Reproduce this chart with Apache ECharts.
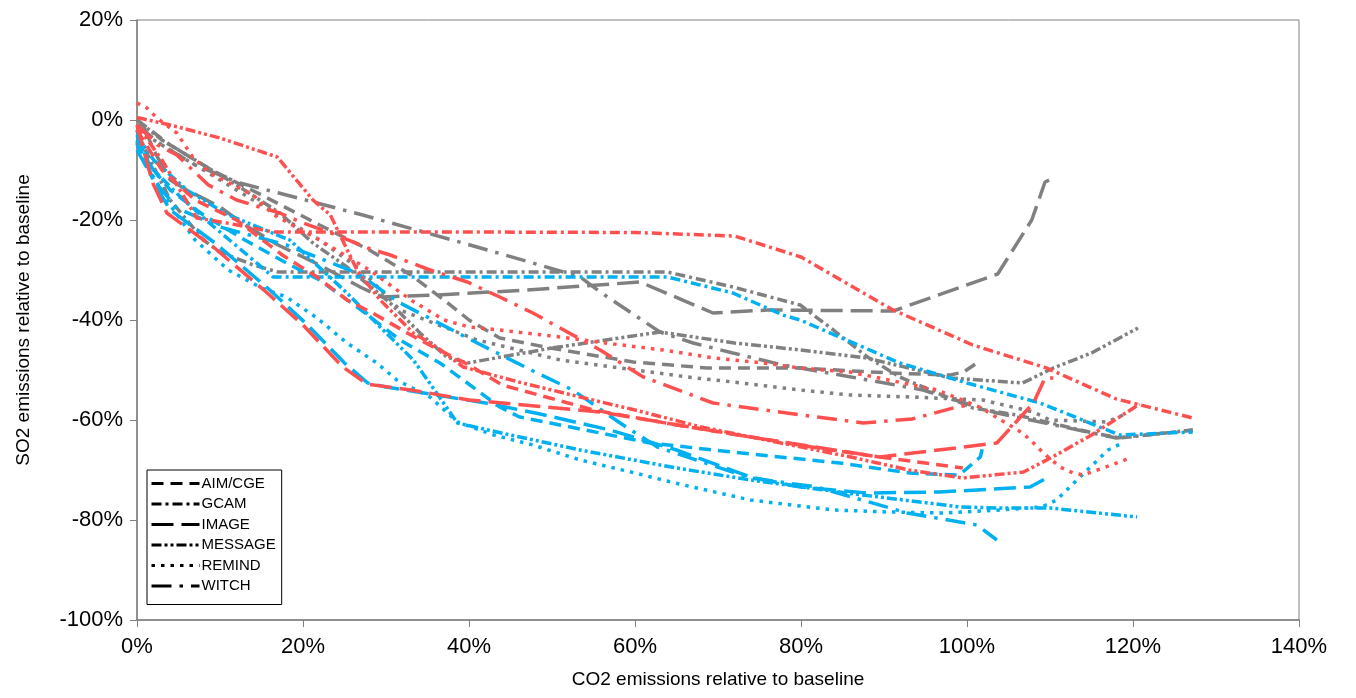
<!DOCTYPE html>
<html><head><meta charset="utf-8">
<script src="https://cdn.jsdelivr.net/npm/echarts@6/dist/echarts.min.js"></script>
<style>html,body{margin:0;padding:0;background:#fff}#c{width:1356px;height:698px}</style>
</head><body><div id="c"></div>
<script>
// x: CO2 emissions relative to baseline (%), y: SO2 emissions relative to baseline (%)
const xTicks = [0,20,40,60,80,100,120,140];
const yTicks = [-100,-80,-60,-40,-20,0,20];
const models = ['AIM/CGE','GCAM','IMAGE','MESSAGE','REMIND','WITCH'];

const redAIM = [[0,-2],[3,-10],[7,-16],[12,-20],[17.5,-27],[21.7,-31.4],[25.3,-36],[28.4,-38.6],[33,-43],[35.7,-45.4],[40,-49],[44,-53],[55,-58],[65,-61],[74,-63.4],[82,-65.6],[89.5,-67.4],[95,-68.6],[99.5,-69.6]];
const redGCAM = [[0,-1],[3,-8],[7.2,-19.6],[10.8,-20.6],[16.4,-22.4],[40,-22.4],[60,-22.5],[72,-23.2],[80,-27.4],[91.1,-38],[100.7,-45],[109.6,-49.6],[118,-55.8],[127.2,-59.6]];
const redIMAGE = [[0,-1],[0.8,-6],[1.9,-12.6],[3.6,-18.6],[9.2,-25.4],[15.7,-34.6],[20,-41],[24.8,-49.4],[27.7,-52.8],[33,-54],[40,-56],[55.8,-58.4],[73.9,-63.4],[89.5,-67.4],[103.6,-64.6],[108,-56.6],[109.4,-51.6],[110.4,-51.6]];
const redMESSAGE = [[0,0.5],[4,-1],[10,-3.6],[16.9,-7.4],[21.2,-16],[23.3,-19],[26.5,-30],[29.3,-36],[33.3,-42.6],[36.1,-45.4],[39.3,-49.4],[46,-52.4],[53.4,-55.4],[60,-58],[68,-61.4],[77,-64.4],[86,-67.4],[93,-70],[99.5,-71.6],[106.8,-70.4],[110.3,-67.4],[115,-63],[120.8,-56.8]];
const redREMIND = [[0,3.4],[1.2,2.4],[2.4,0.4],[4.8,-2.6],[6.7,-7.4],[8.8,-10.6],[11.6,-13],[14,-15],[16.5,-19],[22,-24],[28,-30],[33,-36],[37,-40],[40,-41.4],[43.7,-42],[51,-43.4],[57.4,-44.8],[63.4,-46],[69.5,-47.6],[75.5,-48.6],[79.9,-49.6],[85.9,-50.4],[96.4,-54],[101.5,-57.4],[106.7,-62.6],[108,-64.6],[109.2,-66.6],[111.2,-69.4],[112.8,-70.6],[114,-71],[115.7,-70],[118.4,-68.4],[119.9,-67.4]];
const redWITCH = [[0,-1],[2.5,-5],[4.8,-7],[8.6,-13],[12,-16],[17.2,-18.6],[20,-20.6],[24,-23],[27.8,-25.6],[30.5,-27],[35.3,-30],[39.8,-32.4],[43.7,-35.4],[47.7,-38.6],[55.8,-46],[61,-51.4],[69.4,-56.6],[78.3,-58.6],[87.5,-60.6],[93.4,-59.8],[98.8,-57.4],[100.4,-57]];

const blueAIM = [[0,-3],[1.5,-9],[4,-14],[8,-19],[13,-24],[18,-28.6],[22,-32],[27,-38],[31.7,-44],[36.5,-48.6],[39.8,-52.6],[43.7,-57.4],[46.1,-59.4],[49.8,-60.6],[55.8,-62.6],[61.8,-64.6],[73.9,-66.8],[84.7,-68.6],[93.1,-70.6],[98.8,-71],[99.5,-70.4],[101.6,-67.4],[101.9,-65.4]];
const blueGCAM = [[0,-5],[2,-10],[5,-15],[9,-21],[13,-26.6],[16.4,-31.4],[40,-31.4],[63.9,-31.4],[71.8,-34.6],[77.8,-39],[79.9,-40],[91.9,-48.6],[100,-52.6],[108.8,-56.6],[118.4,-63],[127.2,-62.4]];
const blueIMAGE = [[0,-2],[1,-8],[2.2,-13],[4,-18],[9.4,-24.6],[16,-34],[20.3,-40.6],[25,-48.6],[27.8,-52.6],[30,-53.4],[36,-55],[42,-56.6],[48,-58.6],[57,-62],[65,-66],[73.9,-71.4],[79.9,-73.4],[88,-74.6],[96.7,-74.4],[107.6,-73.4],[109.6,-71.6]];
const blueMESSAGE = [[0,-3],[2,-8],[6,-14],[11,-19],[18.4,-24],[25.3,-34.6],[29.3,-41.4],[33.3,-48],[36.1,-54.6],[38.6,-60.6],[45,-63],[53.4,-66],[65,-69.6],[73.9,-72],[85.5,-74.6],[99.2,-77.4],[104,-77.6],[110,-77.6],[120.5,-79.4]];
const blueREMIND = [[0,-4],[1.5,-10],[4,-17],[7,-24],[11,-30],[15,-33.6],[18,-35.4],[21.7,-39.6],[25.3,-44.6],[28.9,-48.6],[31.3,-52],[35.3,-55.4],[38.6,-60.4],[43,-63],[47.7,-65],[53.4,-68],[60,-70.6],[64.8,-72.6],[73.9,-76],[83.9,-78],[90.6,-78.4],[97.1,-78.6],[104,-78],[109,-77.4],[110.8,-76],[113,-72.4],[117,-66],[119,-64.4]];
const blueWITCH = [[0,-6],[2,-12],[4.8,-17.6],[10,-21.4],[18,-25],[26.5,-30.6],[31.7,-36.6],[41,-44.6],[48.2,-50.6],[52.5,-54],[58.2,-60.6],[62.7,-65.4],[73.9,-71.6],[81.9,-73.4],[92.8,-78.6],[101.2,-81],[103.6,-84]];

const grayAIM = [[0,0],[4,-5],[9,-10],[15,-15],[22,-21],[28,-26],[33,-31],[37,-36],[40,-40],[43.7,-43.6],[49.8,-45.6],[59.8,-48.4],[68.7,-49.6],[79.9,-49.6],[90.7,-50.6],[98,-51],[99.6,-50.4],[101.2,-48.6]];
const grayGCAM = [[0,-2],[1,-6],[4,-16],[8,-24],[10,-26.4],[14,-29],[17,-30.4],[40,-30.4],[63.9,-30.4],[71.8,-33.4],[79.9,-37],[83.9,-42],[88,-47.4],[91.9,-51.4],[100.7,-57.6],[106,-59],[115.2,-62.6],[118.4,-63.6],[127.2,-62]];
const grayIMAGE = [[0,-5],[0.5,0],[2,-6],[4,-12],[6,-14],[10,-17.4],[13,-21],[17,-25],[22,-29],[27,-33.5],[29.5,-35.4],[36,-35],[47,-34],[60.6,-32.4],[69.4,-38.6],[76,-38],[91.1,-38.2],[103.7,-30.8],[107.8,-20],[109.4,-12.4],[110.2,-11.8]];
const grayMESSAGE = [[0,0],[3,-4],[7,-8],[12,-13],[17.2,-18.6],[21.2,-24.6],[25.3,-29.4],[30.5,-36.6],[34.1,-42.6],[37.3,-47.4],[39.8,-48.6],[50,-45.6],[63,-42.4],[72,-44.6],[80,-46],[87.9,-47.6],[98,-51.6],[106.7,-52.6],[110.4,-49.6],[115,-46.6],[120.6,-41.6]];
const grayREMIND = [[0,-2],[5,-7],[10,-12],[16,-18],[22,-24],[27,-30],[31.7,-38],[41,-44],[51,-48],[66.3,-51.4],[71.8,-52.4],[79.9,-54],[85.9,-55],[93.1,-55.4],[101.9,-56],[108,-58.4],[110,-60],[116.9,-60.4],[118.8,-59]];
const grayWITCH = [[0,-1],[3,-5],[7,-9],[12.4,-12.6],[18,-15],[27.2,-19],[38,-24],[47.3,-28.4],[53.4,-31.4],[55.8,-34.4],[59.4,-38.4],[63,-42.4],[67,-44.6],[71.8,-46.6],[77.8,-49],[84.7,-51],[94.7,-54],[103.6,-58.6],[118,-63.6],[127.2,-62]];

const colors = {gray:'#808080', blue:'#00B0F0', red:'#FF5050'};
const dashes = {
  'AIM/CGE':[12,7],
  'GCAM':[10,4,3,4],
  'IMAGE':[22,8],
  'MESSAGE':[10,3,3,3,3,3],
  'REMIND':[3.5,6],
  'WITCH':[20,8,3.5,8]
};
const groups = [
  ['gray',[grayAIM,grayGCAM,grayIMAGE,grayMESSAGE,grayREMIND,grayWITCH]],
  ['blue',[blueAIM,blueGCAM,blueIMAGE,blueMESSAGE,blueREMIND,blueWITCH]],
  ['red',[redAIM,redGCAM,redIMAGE,redMESSAGE,redREMIND,redWITCH]]
];

const series = [];
models.forEach(m => {
  series.push({name:m, type:'line', data:[], symbol:'none', color:'#000',
    lineStyle:{color:'#000', width:3, type:dashes[m]}});
});
groups.forEach(([c, arrs]) => {
  arrs.forEach((d, i) => {
    series.push({name: models[i] + ' ' + c, type:'line', data:d, symbol:'none', silent:true,
      color: colors[c], lineStyle:{color:colors[c], width:3.5, type:dashes[models[i]]}});
  });
});

const chart = echarts.init(document.getElementById('c'));
chart.setOption({
  animation:false,
  backgroundColor:'#fff',
  textStyle:{fontFamily:'Liberation Sans, Arial, sans-serif'},
  grid:{left:137, top:20, width:1162, height:600, show:true, borderColor:'#808080', borderWidth:1, containLabel:false},
  legend:{
    data: models, orient:'vertical', left:147, top:470, selectedMode:false,
    padding:[6,6,11,3], itemGap:5.5, itemWidth:48, itemHeight:14,
    itemStyle:{opacity:0, borderWidth:0},
    lineStyle:{width:3, color:'#000'},
    borderColor:'#000', borderWidth:1, backgroundColor:'#fff',
    textStyle:{fontSize:15, color:'#000', fontFamily:'Liberation Sans, Arial, sans-serif', padding:[0,0,0,-3]}
  },
  xAxis:{type:'value', min:xTicks[0], max:xTicks[xTicks.length-1], interval:20,
    name:'CO2 emissions relative to baseline', nameLocation:'middle', nameGap:50,
    nameTextStyle:{fontSize:19, color:'#000'},
    axisLine:{show:true, onZero:false, lineStyle:{color:'#808080', width:1.5}},
    axisTick:{show:true, length:7, lineStyle:{color:'#808080'}},
    axisLabel:{formatter:'{value}%', fontSize:22, color:'#000', margin:16},
    splitLine:{show:false}},
  yAxis:{type:'value', min:yTicks[0], max:yTicks[yTicks.length-1], interval:20,
    name:'SO2 emissions relative to baseline', nameLocation:'middle', nameGap:104,
    nameTextStyle:{fontSize:19, color:'#000'},
    axisLine:{show:true, onZero:false, lineStyle:{color:'#808080', width:1.5}},
    axisTick:{show:true, length:7, lineStyle:{color:'#808080'}},
    axisLabel:{formatter:'{value}%', fontSize:22, color:'#000', margin:14},
    splitLine:{show:false}},
  series: series
});
</script></body></html>
